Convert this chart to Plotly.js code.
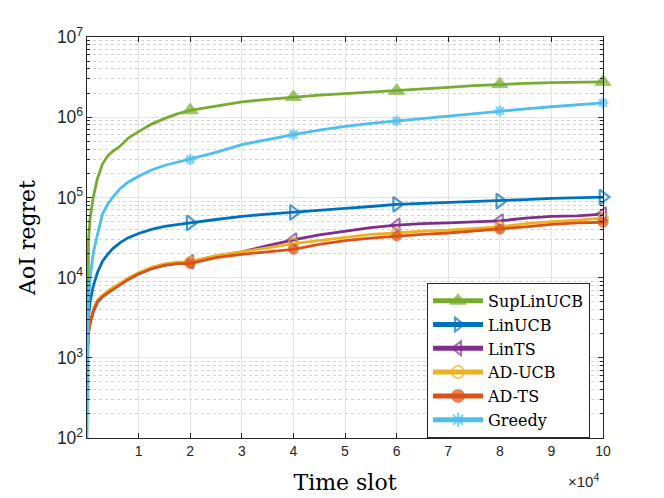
<!DOCTYPE html>
<html>
<head>
<meta charset="utf-8">
<script src="https://cdn.plot.ly/plotly-3.0.1.min.js"></script>
<style>
  html, body { margin: 0; padding: 0; background: #fff; }
  #graphic_regret { width: 664px; height: 498px; }
</style>
</head>
<body>
<div id="graphic_regret"></div>
<script>
// time slots (x)
const time_slot = [1, 300, 600, 1200, 2000, 3000, 4000, 5000, 6500, 8000, 10000, 12500, 15000, 17500, 20000,
    25000, 30000, 35000, 40000, 45000, 50000, 55000, 60000, 65000, 70000, 75000, 80000, 85000, 90000, 95000, 100000];
const marker_slot = [20000, 40000, 60000, 80000, 100000];

const regret_suplinucb = [300, 30000, 55000, 100000, 170000, 260000, 330000, 375000, 440000, 550000, 660000, 820000, 960000, 1100000, 1220000,
    1380000, 1550000, 1670000, 1780000, 1880000, 1970000, 2050000, 2130000, 2250000, 2350000, 2470000, 2580000, 2640000, 2700000, 2730000, 2760000];
const regret_linucb = [700, 3300, 5000, 7700, 11500, 16000, 19500, 23000, 27500, 31500, 35500, 40000, 43500, 46000, 48000,
    53000, 58000, 62000, 65000, 69000, 73000, 77000, 82000, 84000, 86000, 88000, 90000, 94000, 97000, 99000, 101000];
const regret_lints = [1000, 2100, 2700, 3700, 4900, 5800, 6500, 7100, 8300, 9500, 11200, 12900, 14300, 15000, 15800,
    18500, 21000, 25000, 29500, 34000, 38000, 42000, 45000, 47000, 48000, 49000, 51000, 55000, 58000, 59000, 62000];
const regret_aducb = [1000, 2000, 2800, 3900, 5200, 6000, 6800, 7500, 8500, 9900, 11500, 13400, 14800, 15600, 15700,
    18800, 20800, 23500, 26500, 29000, 32000, 34500, 36000, 38000, 39000, 41000, 43000, 47000, 50000, 52000, 55000];
const regret_adts = [1000, 2200, 2700, 3800, 5000, 5800, 6400, 7100, 8100, 9500, 11100, 12900, 14200, 14900, 15000,
    17800, 19500, 21000, 22500, 26000, 29000, 31000, 33000, 34500, 36000, 38000, 40000, 43000, 46000, 48000, 49000];
const regret_greedy = [100, 5000, 10000, 20000, 34000, 62000, 82000, 101000, 130000, 156000, 184000, 220000, 250000, 275000, 297000,
    365000, 455000, 530000, 608000, 690000, 770000, 840000, 900000, 960000, 1050000, 1120000, 1200000, 1270000, 1350000, 1430000, 1510000];

const x_tickvals = [10000, 20000, 30000, 40000, 50000, 60000, 70000, 80000, 90000, 100000];
const x_ticktext = ["1", "2", "3", "4", "5", "6", "7", "8", "9", "10"];

const Regret = {
    fun: {
        markerSizes: (size) => time_slot.map(t => marker_slot.includes(t) ? size : 0),
        trace: (name, values, color, symbol, size, line_width) => ({
            x: time_slot,
            y: values,
            name: name,
            type: 'scatter',
            mode: 'lines+markers',
            cliponaxis: false,
            line: { color: color, width: 2.8 },
            marker: {
                symbol: symbol,
                size: Regret.fun.markerSizes(size),
                color: color,
                line: { color: color, width: line_width }
            }
        }),
        printGraphic: (html_id, data) => {
            const axis_color = '#262626';
            const tick_font = { family: 'Liberation Sans, Arial, sans-serif', size: 14, color: axis_color };
            const serif = 'DejaVu Serif, serif';
            const layout = {
                width: 664,
                height: 498,
                margin: { l: 87, r: 61, t: 37, b: 60 },
                paper_bgcolor: '#ffffff',
                plot_bgcolor: '#ffffff',
                showlegend: true,
                legend: {
                    x: 0.659, y: 0.387, xanchor: 'left', yanchor: 'top',
                    bgcolor: '#ffffff', bordercolor: axis_color, borderwidth: 1,
                    itemsizing: 'constant', itemwidth: 50,
                    font: { family: serif, size: 16, color: '#000' }
                },
                xaxis: {
                    range: [0, 100000],
                    tickmode: 'array',
                    tickvals: x_tickvals,
                    ticktext: x_ticktext,
                    ticks: 'inside', ticklen: 5, tickcolor: axis_color,
                    showline: true, linecolor: axis_color, linewidth: 1, mirror: 'ticks',
                    showgrid: true, gridcolor: '#e3e3e3', gridwidth: 1,
                    zeroline: false,
                    tickfont: tick_font,
                    title: { text: 'Time slot', standoff: 16, font: { family: serif, size: 22, color: '#000' } }
                },
                yaxis: {
                    type: 'log',
                    range: [2, 7],
                    dtick: 1,
                    exponentformat: 'power',
                    ticks: 'inside', ticklen: 5, tickcolor: axis_color,
                    showline: true, linecolor: axis_color, linewidth: 1, mirror: 'ticks',
                    showgrid: true, gridcolor: '#e3e3e3', gridwidth: 1,
                    zeroline: false,
                    tickfont: tick_font,
                    minor: {
                        dtick: 'D1', ticks: 'inside', ticklen: 3, tickcolor: axis_color,
                        showgrid: true, gridcolor: '#d2d2d2', griddash: 'dot', gridwidth: 1
                    },
                    title: { text: 'AoI regret', standoff: 15, font: { family: serif, size: 22, color: '#000' } }
                },
                annotations: [{
                    xref: 'paper', yref: 'paper', x: 0.996, y: -0.105,
                    xanchor: 'right', yanchor: 'middle', showarrow: false,
                    text: '×10<sup>4</sup>',
                    font: { family: tick_font.family, size: 15, color: axis_color }
                }]
            };
            Plotly.newPlot(html_id, data, layout, { displayModeBar: false, staticPlot: true });
        }
    }
};

const data = [
    Regret.fun.trace('SupLinUCB', regret_suplinucb, '#77AC30', 'triangle-up', 14, 1),
    Regret.fun.trace('LinUCB', regret_linucb, '#0072BD', 'triangle-right-open', 13, 2.2),
    Regret.fun.trace('LinTS', regret_lints, '#7E2F8E', 'triangle-left-open', 12, 2),
    Regret.fun.trace('AD-UCB', regret_aducb, '#EDB120', 'circle-open', 10, 2.2),
    Regret.fun.trace('AD-TS', regret_adts, '#D95319', 'circle', 10, 1),
    Regret.fun.trace('Greedy', regret_greedy, '#4DBEEE', 'asterisk-open', 9, 2.5)
];

Regret.fun.printGraphic("graphic_regret", data);
</script>
</body>
</html>
